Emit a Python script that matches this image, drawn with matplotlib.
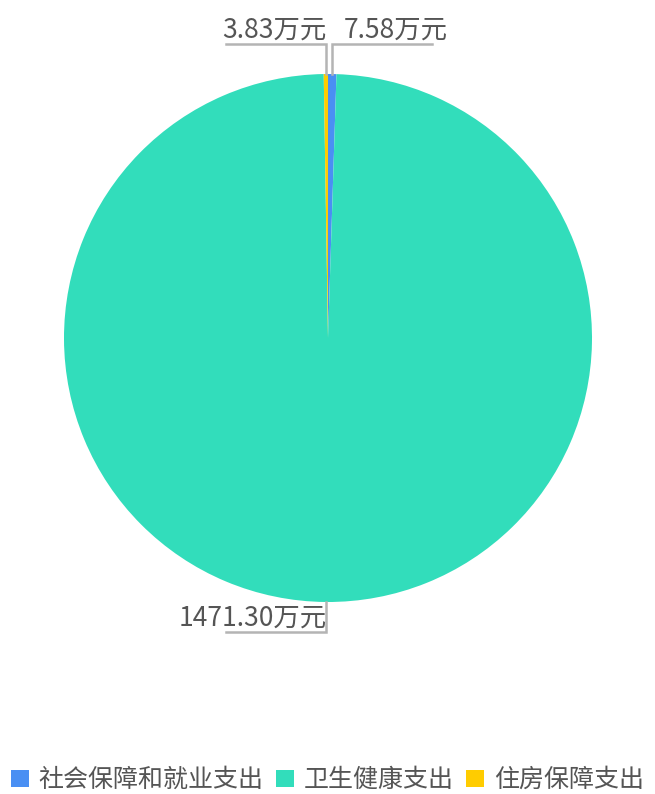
import numpy as np
import matplotlib
matplotlib.use("Agg")
import matplotlib.pyplot as plt

plt.rcParams['font.family'] = ['Noto Sans CJK SC', 'DejaVu Sans']

# data
categories = ['社会保障和就业支出', '卫生健康支出', '住房保障支出']
values = [7.58, 1471.30, 3.83]
colors = ['#4a8ff3', '#32ddbb', '#ffcc00']
unit = '万元'

W, H = 655, 794
fig = plt.figure(figsize=(W / 100, H / 100), dpi=100)
ax = fig.add_axes([0, 0, 1, 1])

cx, cy, r = 328, H - 338, 264
wedges, _ = ax.pie(values, colors=colors, startangle=90, counterclock=False,
                   center=(cx, cy), radius=r, frame=True,
                   wedgeprops=dict(linewidth=0))
ax.set_xlim(0, W)
ax.set_ylim(0, H)
ax.set_aspect('equal')
ax.axis('off')

line_c = '#b4b4b4'
text_c = '#555555'
for w, v in zip(wedges, values):
    mid = np.deg2rad((w.theta1 + w.theta2) / 2)
    x0 = cx + r * np.cos(mid)
    y0 = cy + r * np.sin(mid)
    up = np.sin(mid) > 0
    y1 = y0 + 30 if up else y0 - 30
    right = np.cos(mid) > 0
    x2 = x0 + 100 if right else x0 - 100
    ax.plot([x0, x0, x2], [y0, y1, y1], color=line_c, lw=1.8,
            solid_joinstyle='miter', zorder=1)
    lbl = '%.2f%s' % (v, unit)
    if right:
        ax.text(x0 + 12, y1 + 6, lbl, ha='left', va='baseline',
                fontsize=19, color=text_c)
    else:
        ax.text(x0 + 1, y1 + 6, lbl, ha='right', va='baseline',
                fontsize=19, color=text_c)

# legend sits at the very bottom edge like the original
fig.legend(wedges, categories, loc='center', ncol=3,
           bbox_to_anchor=(0.5, 14 / H), frameon=False, fontsize=18,
           handlelength=0.7, handleheight=0.7, handletextpad=0.4,
           columnspacing=0.5, labelcolor=text_c, borderpad=0, borderaxespad=0)

fig.savefig('out.png', dpi=100)
